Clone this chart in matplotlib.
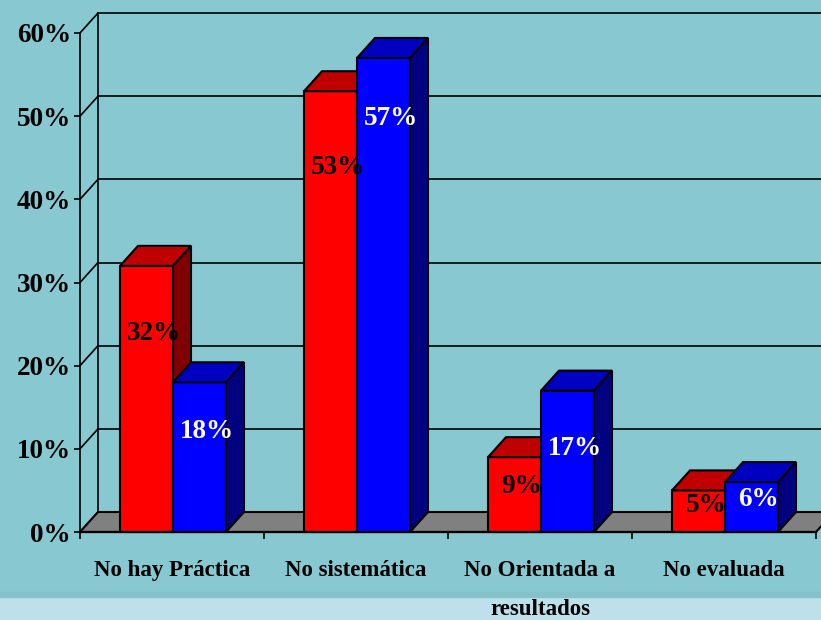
import numpy as np
import matplotlib.pyplot as plt
from matplotlib.patches import Polygon, Rectangle

categories = ['No hay Práctica', 'No sistemática', 'No Orientada a\nresultados', 'No evaluada']
red_values = [32, 53, 9, 5]
blue_values = [18, 57, 17, 6]
red_labels = ['32%', '53%', '9%', '5%']
blue_labels = ['18%', '57%', '17%', '6%']
y_ticks = [0, 10, 20, 30, 40, 50, 60]
y_tick_labels = ['0%', '10%', '20%', '30%', '40%', '50%', '60%']

# label heights are not centred in the original, so read them off too
red_label_y = [23.9, 43.8, 5.5, 3.2]
blue_label_y = [12.1, 49.7, 10.0, 3.9]

BG = '#88c8d0'
BAND = '#bee0ea'
FONT = 'Liberation Serif'

# depth of the fake 3d box, in data units
dx = 18 / 184
dy = 20 / 8.317
bar_w = 53 / 184
nudge = 1 / 184

fig = plt.figure(figsize=(8.21, 6.2), dpi=100, facecolor=BG)
fig.patches.append(Rectangle((0, 0), 1, 23 / 620, transform=fig.transFigure, color=BAND, zorder=-2))
fig.patches.append(Rectangle((0, 23 / 620), 1, 5 / 620, transform=fig.transFigure, color='#82c2c8', zorder=-2))

ax = fig.add_axes([80 / 821, 88 / 620, 736 / 821, 499 / 620])
ax.set_xlim(-0.5, 3.5)
ax.set_ylim(0, 60)
ax.patch.set_alpha(0)


def poly(pts, color, z):
	p = Polygon(pts, closed=True, facecolor=color, edgecolor='black', lw=1.5, clip_on=False, zorder=z)
	ax.add_patch(p)


def box(x, w, h, front, top, side, z):
	ax.bar(x, h, w, align='edge', color=front, edgecolor='black', lw=1.5, clip_on=False, zorder=z)
	poly([(x, h), (x + dx, h + dy), (x + w + dx, h + dy), (x + w, h)], top, z)
	poly([(x + w, 0), (x + w + dx, dy), (x + w + dx, h + dy), (x + w, h)], side, z)


# back wall and side wall lines
left = -0.5
for t in y_ticks:
	ax.plot([left + dx, 3.5 + dx], [t + dy, t + dy], color='black', lw=1.2, clip_on=False, zorder=1)
	ax.plot([left, left + dx], [t, t + dy], color='black', lw=1.2, clip_on=False, zorder=1)
ax.plot([left + dx, left + dx], [dy, 60 + dy], color='black', lw=1.2, clip_on=False, zorder=1)

# floor
poly([(left, 0), (left + dx, dy), (3.5 + dx, dy), (3.5, 0)], '#808080', 2)

for i in range(len(categories)):
	box(i - bar_w + nudge, bar_w, red_values[i], '#ff0000', '#c00000', '#800000', 3 + i * 2)
	box(i + nudge, bar_w, blue_values[i], '#0000ff', '#0000c0', '#000080', 4 + i * 2)
	ax.text(i - bar_w / 2 + 0.045, red_label_y[i], red_labels[i], ha='center', va='center',
		color='black', family=FONT, weight='bold', fontsize=19.5, zorder=20)
	ax.text(i + bar_w / 2 + 0.045, blue_label_y[i], blue_labels[i], ha='center', va='center',
		color='white', family=FONT, weight='bold', fontsize=19.5, zorder=20)

ax.spines['top'].set_visible(False)
ax.spines['right'].set_visible(False)
ax.spines['left'].set_linewidth(1.2)
ax.spines['bottom'].set_linewidth(1.6)
ax.spines['bottom'].set_zorder(30)

ax.set_yticks(y_ticks)
ax.set_yticklabels(y_tick_labels, family=FONT, weight='bold', fontsize=19.5)
ax.tick_params(axis='y', length=4.5, width=1.2, pad=2)

ax.set_xticks(np.arange(len(categories)))
ax.set_xticklabels(categories, family=FONT, weight='bold', fontsize=16.5, linespacing=2.15)
ax.set_xticks(np.arange(-0.5, 4), minor=True)
ax.tick_params(axis='x', which='major', length=0, pad=20)
ax.tick_params(axis='x', which='minor', length=5, width=1.2)

fig.savefig('out.png', dpi=100, facecolor=fig.get_facecolor())
